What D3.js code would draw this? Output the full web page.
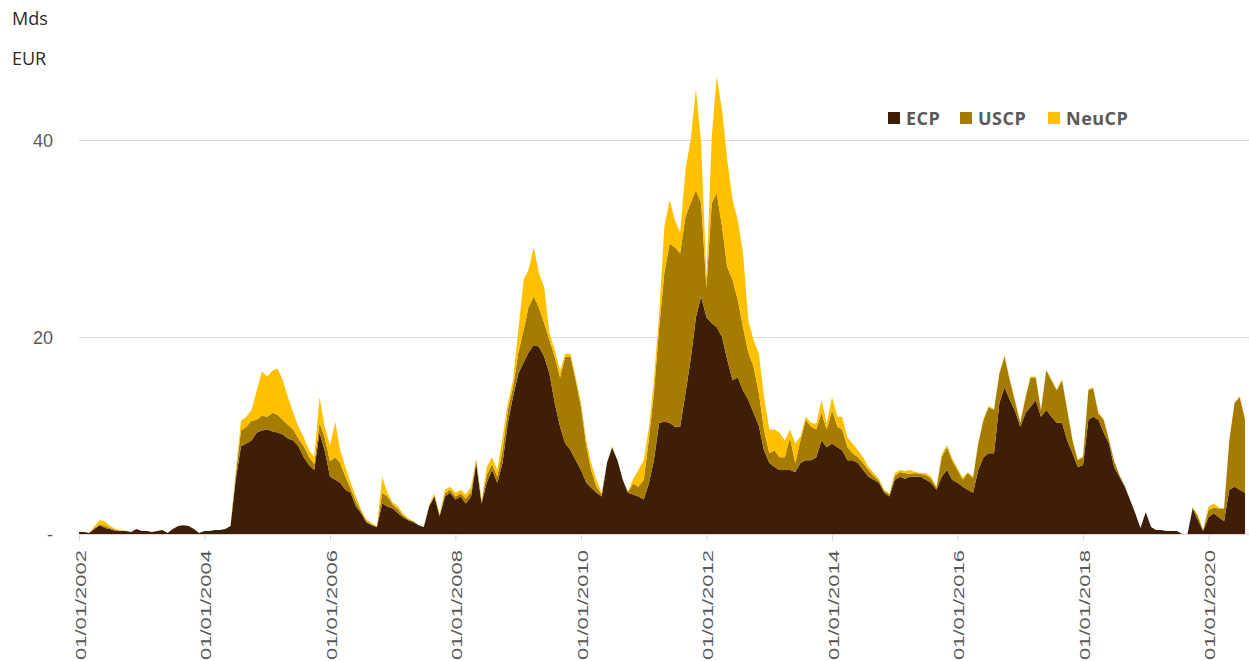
<!DOCTYPE html>
<html>
<head>
<meta charset="utf-8">
<script src="https://cdn.jsdelivr.net/npm/d3@7"></script>
<style>
  html, body { margin: 0; padding: 0; background: #ffffff; }
  svg { display: block; font-family: "Open Sans", "Noto Sans", "DejaVu Sans", sans-serif; }
</style>
</head>
<body>
<svg id="chart" width="1249" height="661"></svg>
<script>
// Outstanding commercial paper, billions of EUR, monthly observations from January 2002
const firstMonth = "2002-01";
const seriesNames = ["ECP", "USCP", "NeuCP"];
const seriesColors = ["#3f1e08", "#a57b00", "#ffc000"];
const yTicks = [0, 20, 40];
const yTickLabels = ["-", "20", "40"];
const xTickDates = ["2002-01-01", "2004-01-01", "2006-01-01", "2008-01-01", "2010-01-01",
                    "2012-01-01", "2014-01-01", "2016-01-01", "2018-01-01", "2020-01-01"];
const xTickLabels = ["01/01/2002", "01/01/2004", "01/01/2006", "01/01/2008", "01/01/2010",
                     "01/01/2012", "01/01/2014", "01/01/2016", "01/01/2018", "01/01/2020"];
const unitLines = ["Mds", "EUR"];

const ecp = [
  0.2,0.2,0.1,0.5,0.9,0.6,0.5,0.3,0.3,0.3,0.2,0.5,          // 2002
  0.3,0.3,0.2,0.3,0.4,0.1,0.5,0.8,0.9,0.8,0.5,0.1,          // 2003
  0.3,0.3,0.4,0.4,0.5,0.8,5.5,8.9,9.2,9.5,10.3,10.5,        // 2004
  10.6,10.4,10.3,10.1,9.7,9.5,8.9,7.8,7.0,6.5,10.3,8.5,     // 2005
  5.8,5.5,5.2,4.5,4.2,2.8,2.1,1.2,0.9,0.7,3.1,2.8,          // 2006
  2.6,2.1,1.7,1.4,1.2,0.9,0.7,2.8,3.8,1.8,3.8,4.2,          // 2007
  3.5,3.8,3.1,3.8,7.2,3.1,5.2,6.5,5.2,7.2,11.3,13.9,        // 2008
  16.3,17.4,18.4,19.2,19.0,18.0,16.3,13.3,10.9,9.2,8.5,7.5, // 2009
  6.5,5.2,4.7,4.2,3.8,7.2,8.8,7.5,5.5,4.2,4.0,3.8,          // 2010
  3.5,5.2,7.5,11.3,11.4,11.3,10.9,10.9,14.3,17.7,22.0,24.1, // 2011
  22.0,21.4,21.0,20.0,17.7,15.6,15.9,14.6,13.6,12.3,11.0,8.5, // 2012
  7.2,6.8,6.5,6.5,6.5,6.3,7.2,7.5,7.5,7.8,9.5,8.8,          // 2013
  9.2,8.8,8.5,7.5,7.5,7.2,6.5,5.8,5.5,5.2,4.2,3.8,          // 2014
  5.5,5.8,5.6,5.8,5.8,5.8,5.5,5.2,4.5,5.8,6.5,5.5,          // 2015
  5.2,4.8,4.5,4.2,6.5,7.8,8.2,8.2,13.3,14.9,13.6,12.5,      // 2016
  10.9,12.3,12.9,13.6,11.9,12.6,11.9,11.3,11.3,9.5,8.2,6.8, // 2017
  7.0,11.6,11.9,11.6,10.3,9.2,6.8,5.8,4.8,3.5,2.1,0.6,      // 2018
  2.2,0.7,0.4,0.4,0.3,0.3,0.3,0,0,2.6,1.4,0.3,              // 2019
  1.7,2.1,1.7,1.3,4.5,4.8,4.5,4.2                           // 2020
];
const uscp = [
  0,0,0,0.1,0.1,0.2,0.1,0.1,0,0,0,0,
  0,0,0,0,0,0,0,0,0,0,0,0,
  0,0,0,0,0,0,0.5,1.6,1.7,2.0,1.3,1.5,
  1.3,1.9,1.8,1.5,1.4,1.1,0.8,1.1,0.8,0.6,1.0,1.3,
  1.6,2.3,2.0,1.3,0.4,0.5,0.2,0.1,0.1,0,1.1,1.0,
  0.4,0.4,0.2,0.1,0.1,0,0,0.1,0.1,0.1,0.3,0.3,
  0.3,0.3,0.5,0.5,0.3,0.2,0.8,0.6,0.6,1.3,1.3,1.0,
  2.1,3.3,4.6,4.9,4.0,3.4,3.4,4.7,5.0,8.8,9.5,8.1,
  6.4,3.7,1.8,0.6,0.2,0,0,0,0,0.1,1.1,1.0,
  2.0,4.6,6.8,9.7,15.1,18.2,18.2,17.6,17.9,15.9,12.9,9.5,
  3.0,12.2,13.6,11.2,9.4,10.2,7.9,6.4,4.8,4.7,3.3,2.1,
  1.0,1.7,1.3,1.3,3.3,0.9,2.3,4.1,3.4,2.8,2.8,1.8,
  3.4,2.1,2.1,1.3,0.7,0.6,0.7,0.7,0.4,0.2,0.2,0.2,
  0.4,0.5,0.6,0.3,0.4,0.3,0.5,0.4,0.2,2.0,2.3,2.0,
  1.3,0.7,1.7,1.5,2.7,3.8,4.7,4.4,3.0,3.1,2.0,1.0,
  0.4,1.6,3.0,2.3,0.7,4.0,3.7,3.3,4.3,3.1,1.3,0.7,
  0.8,3.0,2.9,0.6,1.3,0.4,0.6,0.2,0.1,0,0,0,
  0,0,0,0,0,0,0,0,0,0.1,0.4,0.1,
  0.7,0.6,0.9,1.3,5.0,8.5,9.4,7.4
];
const neucp = [
  0,0,0,0.2,0.4,0.5,0.2,0.1,0.1,0,0,0,
  0,0,0,0,0,0,0,0,0,0,0,0,
  0,0,0,0,0,0,0.3,1.0,1.0,1.1,3.0,4.5,
  4.1,4.3,4.7,4.0,2.8,1.7,1.2,0.9,0.7,0.7,2.6,1.1,
  1.6,3.6,1.3,1.0,0.6,0.5,0.2,0.2,0.1,0.1,1.6,0.4,
  0.2,0.3,0.2,0.1,0,0,0,0.1,0.2,0.1,0.4,0.3,
  0.4,0.4,0.4,0.5,0.2,0.1,0.8,0.7,0.7,1.3,0.7,0.7,
  2.3,5.1,3.8,5.0,3.5,3.6,0.7,0.7,0.7,0.3,0.3,0.3,
  0.4,0.6,0.7,0.7,0.2,0,0.1,0,0,0,0.5,1.7,
  2.0,1.1,1.3,1.4,4.7,4.4,2.8,2.1,4.8,6.4,10.3,6.1,
  1.0,6.7,11.9,11.8,10.9,8.1,8.1,7.5,3.3,2.7,4.0,3.3,
  2.4,2.1,2.5,1.7,0.8,2.0,0.4,0.3,0.4,0.6,1.3,0.7,
  1.3,1.0,1.3,1.0,1.0,0.7,0.6,0.3,0.3,0.2,0.1,0.1,
  0.3,0.2,0.2,0.4,0.1,0.1,0.2,0.2,0.1,0.3,0.2,0.2,
  0.2,0.2,0.1,0.1,0.1,0.1,0.1,0.1,0.1,0.2,0.1,0.1,
  0.1,0.1,0.1,0.1,0.1,0.1,0.1,0.1,0.1,0.1,0.1,0.1,
  0.1,0.1,0.1,0.1,0.1,0.1,0,0,0,0,0,0,
  0,0,0,0,0,0,0,0,0,0,0.1,0,
  0.4,0.4,0.1,0,0,0,0.1,0.1
];

const parseMonth = d3.timeParse("%Y-%m");
const parseDay = d3.timeParse("%Y-%m-%d");
const start = parseMonth(firstMonth);
const rows = ecp.map((v, i) => ({
  date: d3.timeMonth.offset(start, i),
  ECP: v, USCP: uscp[i], NeuCP: neucp[i]
}));

const svg = d3.select("#chart");
const plotLeft = 79, plotRight = 1249, plotTop = 140, plotBottom = 534;

const x = d3.scaleTime()
  .domain([parseDay("2002-01-01"), parseDay("2020-08-24")])
  .range([plotLeft, plotRight]);
const y = d3.scaleLinear().domain([0, 40]).range([plotBottom, plotTop]);

// Horizontal gridlines and y labels
const yAxis = d3.axisLeft(y)
  .tickValues(yTicks)
  .tickSize(-(plotRight - plotLeft))
  .tickPadding(26)
  .tickFormat((d, i) => yTickLabels[i]);
const gy = svg.append("g").attr("transform", `translate(${plotLeft},0)`).call(yAxis);
gy.select(".domain").remove();
gy.selectAll(".tick line").attr("stroke", "#d9d9d9").attr("stroke-width", 1);
gy.selectAll(".tick text")
  .attr("fill", "#595959")
  .style("font-size", "18px")
  .attr("dy", "0.35em");

// Stacked areas
const stack = d3.stack().keys(seriesNames);
const layers = stack(rows);
const area = d3.area()
  .x(d => x(d.data.date))
  .y0(d => y(d[0]))
  .y1(d => y(d[1]))
  .curve(d3.curveLinear);

svg.append("clipPath").attr("id", "plotClip")
  .append("rect").attr("x", plotLeft).attr("y", 0)
  .attr("width", plotRight - plotLeft).attr("height", plotBottom);

svg.append("g").attr("clip-path", "url(#plotClip)")
  .selectAll("path")
  .data(layers)
  .join("path")
  .attr("fill", (d, i) => seriesColors[i])
  .attr("d", area);

// Baseline and x axis
const xAxis = d3.axisBottom(x)
  .tickValues(xTickDates.map(parseDay))
  .tickSize(7)
  .tickFormat((d, i) => xTickLabels[i]);
const gx = svg.append("g").attr("transform", `translate(0,${plotBottom})`).call(xAxis);
gx.select(".domain").attr("stroke", "#d9d9d9").attr("d", `M${plotLeft},0.5H${plotRight}`);
gx.selectAll(".tick line").attr("stroke", "#d9d9d9");
gx.selectAll(".tick text")
  .attr("fill", "#595959")
  .style("font-size", "15px")
  .attr("text-anchor", "end")
  .attr("y", 0).attr("dy", 0)
  .attr("transform", "translate(6,16) rotate(-90)")
  .attr("textLength", 110)
  .attr("lengthAdjust", "spacingAndGlyphs");

// Unit label
svg.append("g").selectAll("text")
  .data(unitLines)
  .join("text")
  .attr("x", 12)
  .attr("y", (d, i) => 25 + i * 40)
  .attr("fill", "#2b2b2b")
  .style("font-size", "18px")
  .text(d => d);

// Legend
const legendX = [888, 960, 1048];
const lg = svg.append("g").selectAll("g")
  .data(seriesNames)
  .join("g")
  .attr("transform", (d, i) => `translate(${legendX[i]},112)`);
lg.append("rect").attr("width", 12).attr("height", 12)
  .attr("fill", (d, i) => seriesColors[i]);
lg.append("text")
  .attr("x", 18).attr("y", 12.5)
  .attr("fill", "#595959")
  .style("font-size", "18px")
  .style("font-weight", "bold")
  .style("letter-spacing", "0.5px")
  .text(d => d);
</script>
</body>
</html>
